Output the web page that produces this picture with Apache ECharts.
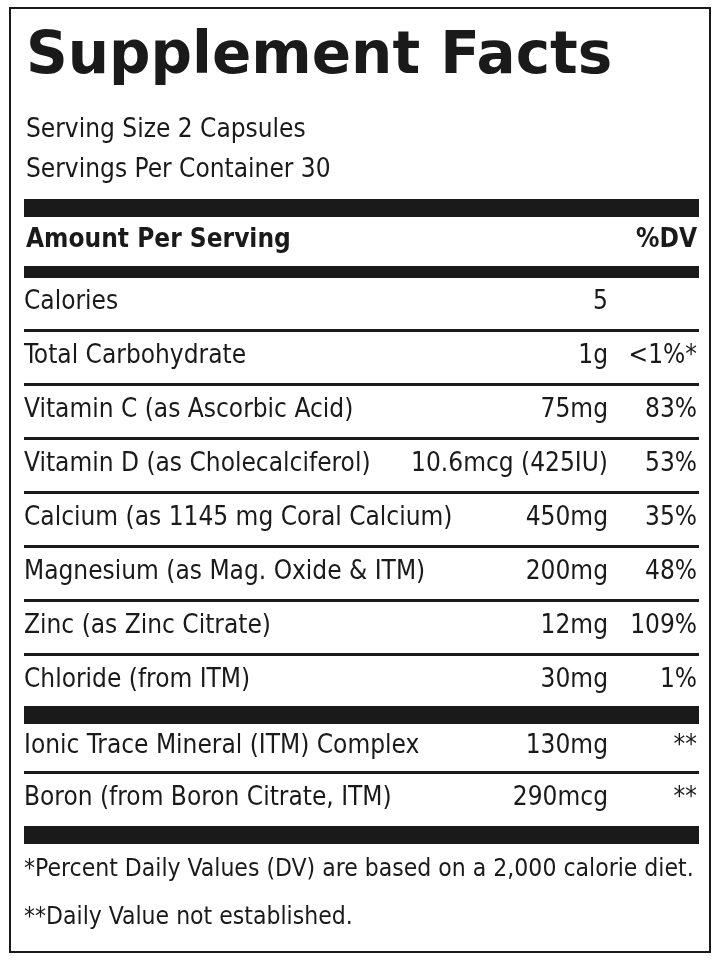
<!DOCTYPE html>
<html><head><meta charset="utf-8">
<script src="https://cdn.jsdelivr.net/npm/echarts@6/dist/echarts.min.js"></script>
<style>html,body{margin:0;padding:0;background:#fff}#c{width:720px;height:960px}</style>
</head><body><div id="c"></div>
<script>
const title = "Supplement Facts";
const servingLines = ["Serving Size 2 Capsules", "Servings Per Container 30"];
const headerLeft = "Amount Per Serving", headerRight = "%DV";
const group1Names = ["Calories","Total Carbohydrate","Vitamin C (as Ascorbic Acid)","Vitamin D (as Cholecalciferol)","Calcium (as 1145 mg Coral Calcium)","Magnesium (as Mag. Oxide & ITM)","Zinc (as Zinc Citrate)","Chloride (from ITM)"];
const group1Amounts = ["5","1g","75mg","10.6mcg (425IU)","450mg","200mg","12mg","30mg"];
const group1DV = ["","<1%*","83%","53%","35%","48%","109%","1%"];
const group2Names = ["Ionic Trace Mineral (ITM) Complex","Boron (from Boron Citrate, ITM)"];
const group2Amounts = ["130mg","290mcg"];
const group2DV = ["**","**"];
const footnotes = ["*Percent Daily Values (DV) are based on a 2,000 calorie diet.","**Daily Value not established."];

const F = "'DejaVu Sans Condensed',sans-serif";
const L = 24, R = 697, AMT = 608;
const g = [];
const txt = (x,y,s,opt={}) => g.push({type:'text',x:x,y:y,style:Object.assign({text:s,fontFamily:F,fontSize:26,fill:'#1a1a1a',textVerticalAlign:'middle',textAlign:'left'},opt)});
const bar = (y,h) => g.push({type:'rect',shape:{x:L,y:y,width:R-L+2,height:h},style:{fill:'#1a1a1a'}});
g.push({type:'rect',shape:{x:10,y:8,width:700,height:944},style:{fill:'none',stroke:'#1a1a1a',lineWidth:2}});
txt(26,58,title,{fontFamily:"'DejaVu Sans',sans-serif",fontWeight:'bold',fontSize:58});
servingLines.forEach((s,i)=>txt(26,130+i*40,s,{fontSize:26}));
bar(199,18);
txt(26,240,headerLeft,{fontWeight:'bold'});
txt(R,240,headerRight,{fontWeight:'bold',textAlign:'right'});
bar(266,12);
const rowH = 54;
group1Names.forEach((n,i)=>{
  const y = 302+i*rowH;
  txt(L,y,n); txt(AMT,y,group1Amounts[i],{textAlign:'right'}); txt(R,y,group1DV[i],{textAlign:'right'});
  if(i<group1Names.length-1) bar(y+27,3);
});
bar(706,18);
group2Names.forEach((n,i)=>{
  const y = 746+i*52;
  txt(L,y,n); txt(AMT,y,group2Amounts[i],{textAlign:'right'}); txt(R,y,group2DV[i],{textAlign:'right'});
  if(i<group2Names.length-1) bar(y+25,3);
});
bar(826,18);
footnotes.forEach((s,i)=>txt(L,870+i*48,s,{fontSize:24.5}));
const chart = echarts.init(document.getElementById('c'));
chart.setOption({animation:false,graphic:g});
</script></body></html>
